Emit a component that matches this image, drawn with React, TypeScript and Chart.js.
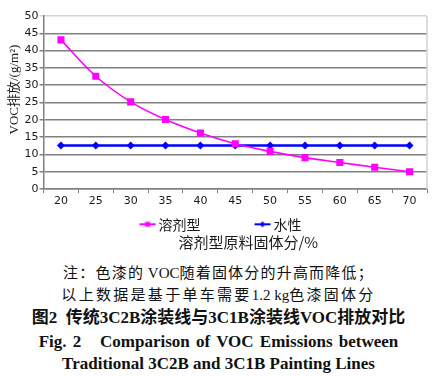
import React, { useEffect, useRef } from "react";
import { Chart, registerables } from "chart.js";

Chart.register(...registerables);

const categories = ["20", "25", "30", "35", "40", "45", "50", "55", "60", "65", "70"];
const solventValues = [43.1, 32.6, 25.2, 20.1, 16.2, 13.1, 10.9, 9.1, 7.7, 6.3, 5.0];
const waterValues = [12.6, 12.6, 12.6, 12.6, 12.6, 12.6, 12.6, 12.6, 12.6, 12.6, 12.6];
const seriesNames = ["溶剂型", "水性"];
const seriesColors = ["#ff00ff", "#0000ff"];
const yMin = 0;
const yMax = 50;
const yStep = 5;
const yTitle = "VOC排放/(g/m²)";
const xTitle = "溶剂型原料固体分/%";
const captionLines = [
  "注：色漆的 VOC随着固体分的升高而降低；",
  "以上数据是基于单车需要1.2 kg色漆固体分",
  "图2  传统3C2B涂装线与3C1B涂装线VOC排放对比",
  "Fig. 2   Comparison of VOC Emissions between",
  "Traditional 3C2B and 3C1B Painting Lines",
];

function makeMarker(color: string, kind: "square" | "diamond"): HTMLCanvasElement {
  const c = document.createElement("canvas");
  c.width = 18;
  c.height = 10;
  const g = c.getContext("2d")!;
  g.strokeStyle = color;
  g.lineWidth = 2;
  g.beginPath();
  g.moveTo(1, 5);
  g.lineTo(17, 5);
  g.stroke();
  g.fillStyle = color;
  if (kind === "square") {
    g.fillRect(6.5, 2.5, 5, 5);
  } else {
    g.beginPath();
    g.moveTo(9, 2);
    g.lineTo(12, 5);
    g.lineTo(9, 8);
    g.lineTo(6, 5);
    g.closePath();
    g.fill();
  }
  return c;
}

const titlesPlugin = {
  id: "customTitles",
  afterDraw(chart: any) {
    const { ctx, chartArea, legend } = chart;
    ctx.save();
    ctx.fillStyle = "#1a1a1a";
    ctx.textAlign = "center";
    ctx.textBaseline = "middle";
    ctx.font = '15px "Noto Sans CJK SC"';
    ctx.fillText(xTitle, (chartArea.left + chartArea.right) / 2 + 13, legend.bottom + 1);
    // right border
    ctx.strokeStyle = "#d0d0d0";
    ctx.lineWidth = 1.5;
    ctx.beginPath();
    ctx.moveTo(chartArea.right, chartArea.top);
    ctx.lineTo(chartArea.right, chartArea.bottom);
    ctx.stroke();
    ctx.translate(chartArea.left - 29, (chartArea.top + chartArea.bottom) / 2 - 13);
    ctx.rotate(-Math.PI / 2);
    ctx.font = '13px "Liberation Serif", "Noto Sans CJK SC"';
    ctx.fillText(yTitle, 0, 0);
    ctx.restore();
  },
};

function renderCaption(text: string, cjkSpacing: number) {
  const parts = text.split(/([\u0000-\u024F]+)/).filter((p) => p.length > 0);
  return parts.map((p, i) =>
    /^[\u0000-\u024F]+$/.test(p) ? (
      <span key={i}>{p}</span>
    ) : (
      <span key={i} style={{ letterSpacing: cjkSpacing }}>
        {p}
      </span>
    )
  );
}

export default function App() {
  const ref = useRef<HTMLCanvasElement | null>(null);

  useEffect(() => {
    if (!ref.current) return;
    const markers = [makeMarker(seriesColors[0], "square"), makeMarker(seriesColors[1], "diamond")];
    const chart = new Chart(ref.current, {
      type: "line",
      data: {
        labels: categories,
        datasets: [
          {
            label: seriesNames[0],
            data: solventValues,
            borderColor: seriesColors[0],
            backgroundColor: seriesColors[0],
            borderWidth: 1.6,
            tension: 0.4,
            pointStyle: "rect",
            pointRadius: 5,
            pointBorderWidth: 0,
            pointBackgroundColor: seriesColors[0],
          },
          {
            label: seriesNames[1],
            data: waterValues,
            borderColor: seriesColors[1],
            backgroundColor: seriesColors[1],
            borderWidth: 2.5,
            pointStyle: "rectRot",
            pointRadius: 4,
            pointBorderWidth: 0,
            pointBackgroundColor: seriesColors[1],
          },
        ],
      },
      options: {
        animation: false,
        responsive: false,
        maintainAspectRatio: false,
        layout: { padding: { left: 18, right: 10, top: 16, bottom: 10.7 } },
        plugins: {
          tooltip: { enabled: false },
          title: { display: false },
          legend: {
            display: true,
            position: "bottom",
            labels: {
              usePointStyle: true,
              pointStyleWidth: 8,
              padding: 9,
              color: "#1a1a1a",
              font: { family: '"Noto Sans CJK SC"', size: 14 },
              generateLabels: (c: any) =>
                Chart.defaults.plugins.legend.labels
                  .generateLabels(c)
                  .map((l: any, i: number) => ({
                    ...l,
                    pointStyle: markers[i],
                    text: i === 0 ? l.text + "\u3000\u3000\u3000\u2002" : l.text,
                  })),
            },
          },
        },
        scales: {
          x: {
            offset: true,
            grid: {
              display: true,
              offset: true,
              drawOnChartArea: false,
              drawTicks: true,
              tickLength: 4,
              color: "#808080",
            },
            border: { display: true, color: "#808080", width: 1.5 },
            ticks: {
              color: "#1a1a1a",
              padding: 1,
              maxRotation: 0,
              font: { family: '"DejaVu Sans"', size: 11 },
            },
          },
          y: {
            min: yMin,
            max: yMax,
            afterFit: (scale: any) => {
              scale.width = 25.5;
            },
            ticks: {
              stepSize: yStep,
              color: "#1a1a1a",
              padding: 1,
              font: { family: '"DejaVu Sans"', size: 11 },
            },
            grid: {
              tickLength: 4,
              lineWidth: 1.5,
              color: (ctx: any) => (ctx.tick && ctx.tick.value === yMax ? "#d6d6d6" : "#808080"),
            },
            border: { display: true, color: "#808080", width: 1.5 },
          },
        },
      },
      plugins: [titlesPlugin],
    });
    return () => chart.destroy();
  }, []);

  const lineTops = [262, 284, 306, 330, 352];
  const lineStyles: React.CSSProperties[] = [
    { fontSize: 15, fontWeight: 400 },
    { fontSize: 15, fontWeight: 400 },
    { fontSize: 17, fontWeight: 700 },
    { fontSize: 17, fontWeight: 700, wordSpacing: 2 },
    { fontSize: 17, fontWeight: 700 },
  ];
  const cjkSpacings = [1.2, 2.3, 0, 0, 0];

  return (
    <div style={{ position: "absolute", left: 0, top: 0, width: 437, height: 376, background: "#fff", overflow: "hidden" }}>
      <canvas ref={ref} width={437} height={252} style={{ position: "absolute", left: 0, top: 0, width: 437, height: 252 }} />
      {captionLines.map((t, i) => (
        <div
          key={i}
          style={{
            position: "absolute",
            left: 0,
            top: lineTops[i],
            width: 437,
            height: 23,
            lineHeight: "23px",
            textAlign: "center",
            whiteSpace: "pre",
            color: "#111",
            fontFamily: '"Liberation Serif", "Noto Sans CJK SC", serif',
            ...lineStyles[i],
          }}
        >
          {renderCaption(t, cjkSpacings[i])}
        </div>
      ))}
    </div>
  );
}
